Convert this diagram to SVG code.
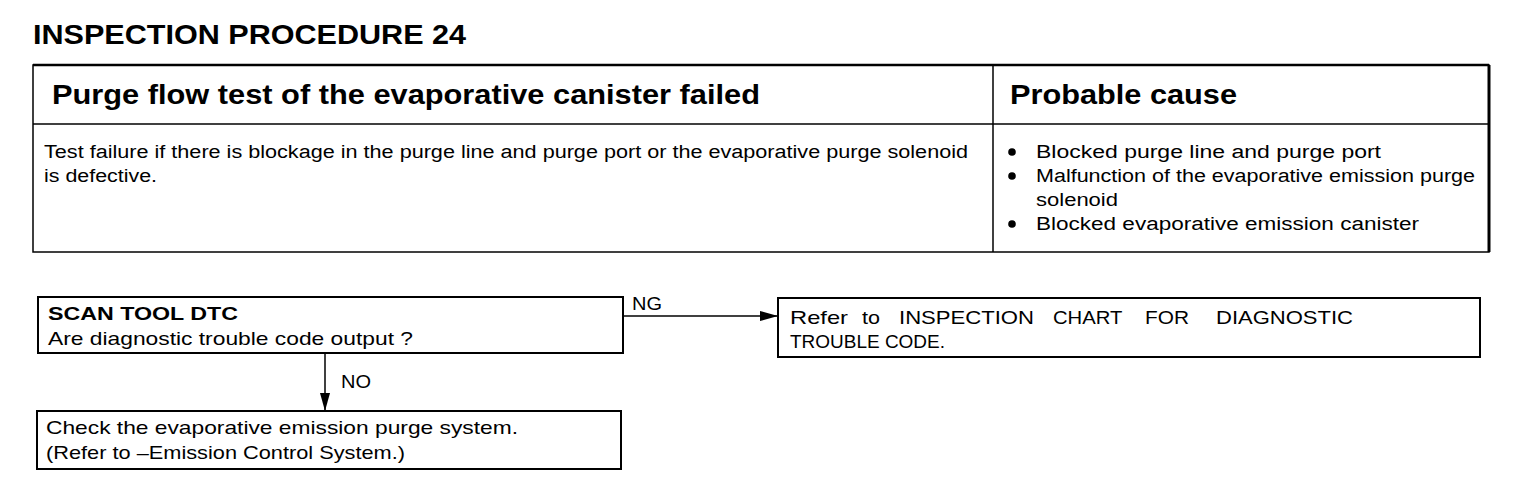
<svg xmlns="http://www.w3.org/2000/svg" width="1520" height="488" viewBox="0 0 1520 488">
  <style>
    text { font-family: "Liberation Sans", Arial, sans-serif; fill: #000; }
    .title { font-size: 28px; font-weight: bold; }
    .hdr { font-size: 28px; font-weight: bold; }
    .body { font-size: 18px; }
    .fc { font-size: 19px; }
    .fcb { font-size: 19px; font-weight: bold; }
    .box { fill: #fff; stroke: #000; stroke-width: 2; }
    .tline { stroke: #000; stroke-width: 1.5; fill: none; }
    .conn { stroke: #000; stroke-width: 1.5; fill: none; }
  </style>
  <defs>
    <marker id="arrow" markerUnits="userSpaceOnUse" markerWidth="20" markerHeight="14" refX="18" refY="7" orient="auto">
      <path d="M0,2 L18,7 L0,12 Z" fill="#000"/>
    </marker>
  </defs>
  <rect width="1520" height="488" fill="#fff"/>

  <text id="title" class="title" x="33" y="44" textLength="433" lengthAdjust="spacingAndGlyphs">INSPECTION PROCEDURE 24</text>

  <g id="table">
    <rect x="33" y="65" width="1456" height="187" class="tline"/>
    <line x1="33" y1="65" x2="1489" y2="65" stroke="#000" stroke-width="2.5"/>
    <line x1="1489" y1="65" x2="1489" y2="252" stroke="#000" stroke-width="3"/>
    <line x1="33" y1="124" x2="1489" y2="124" class="tline"/>
    <line x1="993" y1="65" x2="993" y2="252" class="tline"/>
    <text class="hdr" x="52" y="104" textLength="708" lengthAdjust="spacingAndGlyphs">Purge flow test of the evaporative canister failed</text>
    <text class="hdr" x="1010" y="104" textLength="227" lengthAdjust="spacingAndGlyphs">Probable cause</text>
    <text class="body" x="44" y="158" textLength="924" lengthAdjust="spacingAndGlyphs">Test failure if there is blockage in the purge line and purge port or the evaporative purge solenoid</text>
    <text class="body" x="44" y="182" textLength="113" lengthAdjust="spacingAndGlyphs">is defective.</text>
    <circle cx="1012" cy="152" r="3.8" fill="#000"/>
    <circle cx="1012" cy="176" r="3.8" fill="#000"/>
    <circle cx="1012" cy="224" r="3.8" fill="#000"/>
    <text class="body" x="1036" y="158" textLength="345" lengthAdjust="spacingAndGlyphs">Blocked purge line and purge port</text>
    <text class="body" x="1036" y="182" textLength="439" lengthAdjust="spacingAndGlyphs">Malfunction of the evaporative emission purge</text>
    <text class="body" x="1036" y="206" textLength="82" lengthAdjust="spacingAndGlyphs">solenoid</text>
    <text class="body" x="1036" y="230" textLength="383" lengthAdjust="spacingAndGlyphs">Blocked evaporative emission canister</text>
  </g>

  <g id="connectors">
    <line class="conn" x1="623" y1="316" x2="778" y2="316" marker-end="url(#arrow)"/>
    <text class="fc" x="632" y="310" textLength="30" lengthAdjust="spacingAndGlyphs">NG</text>
    <line class="conn" x1="325" y1="353" x2="325" y2="411" marker-end="url(#arrow)"/>
    <text class="fc" x="341" y="388" textLength="30" lengthAdjust="spacingAndGlyphs">NO</text>
  </g>

  <g id="node-scan">
    <rect class="box" x="38" y="297" width="585" height="56"/>
    <text class="fcb" x="48" y="320" textLength="190" lengthAdjust="spacingAndGlyphs">SCAN TOOL DTC</text>
    <text class="fc" x="48" y="345" textLength="365" lengthAdjust="spacingAndGlyphs">Are diagnostic trouble code output ?</text>
  </g>

  <g id="node-refer">
    <rect class="box" x="778" y="298" width="702" height="59"/>
    <text class="fc" y="324"><tspan x="790" textLength="58" lengthAdjust="spacingAndGlyphs">Refer</tspan> <tspan x="862" textLength="18" lengthAdjust="spacingAndGlyphs">to</tspan> <tspan x="899" textLength="135" lengthAdjust="spacingAndGlyphs">INSPECTION</tspan> <tspan x="1053" textLength="69" lengthAdjust="spacingAndGlyphs">CHART</tspan> <tspan x="1145" textLength="44" lengthAdjust="spacingAndGlyphs">FOR</tspan> <tspan x="1216" textLength="137" lengthAdjust="spacingAndGlyphs">DIAGNOSTIC</tspan></text>
    <text class="fc" x="790" y="348" textLength="155" lengthAdjust="spacingAndGlyphs">TROUBLE CODE.</text>
  </g>

  <g id="node-check">
    <rect class="box" x="37" y="411" width="584" height="58"/>
    <text class="fc" x="46" y="434" textLength="472" lengthAdjust="spacingAndGlyphs">Check the evaporative emission purge system.</text>
    <text class="fc" x="46" y="459" textLength="359" lengthAdjust="spacingAndGlyphs">(Refer to –Emission Control System.)</text>
  </g>
</svg>
